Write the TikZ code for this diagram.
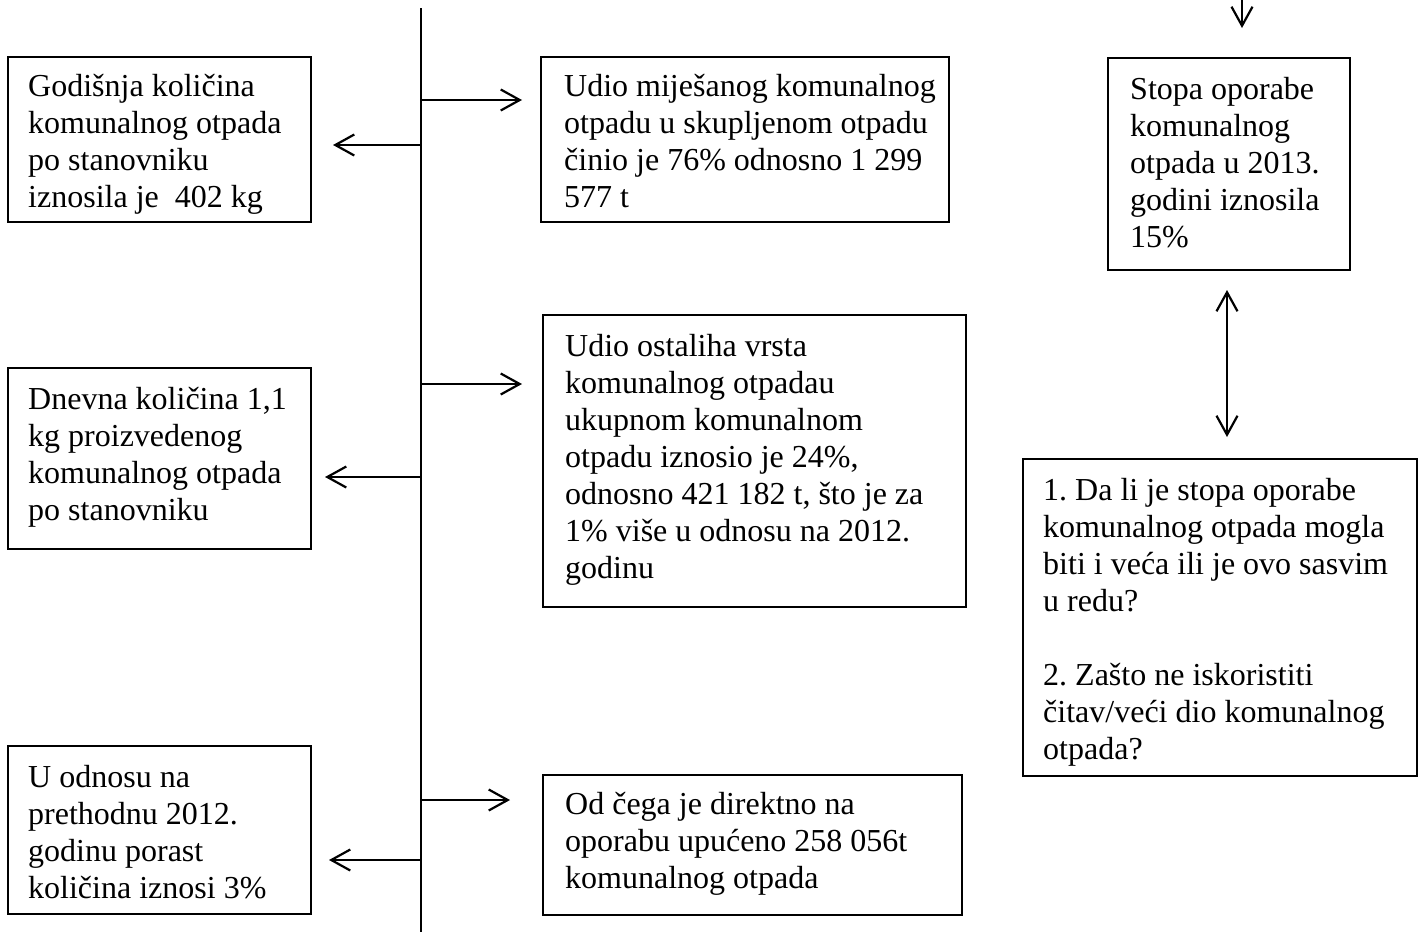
\documentclass[tikz,border=0pt]{standalone}
\usepackage{fontspec}
\setmainfont{Liberation Serif}
\usetikzlibrary{arrows.meta}
\frenchspacing
\begin{document}
\begin{tikzpicture}[x=1pt,y=-1pt,
  boxline/.style={draw=black,line width=2.2pt},
  txt/.style={anchor=base west,inner sep=0pt,align=left,font=\fontsize{32}{37}\selectfont},
  arr/.style={line width=2.2pt,-{Straight Barb[length=19pt,width=21pt,line width=2.2pt]}},
  darr/.style={line width=2.2pt,{Straight Barb[length=19pt,width=21pt,line width=2.2pt]}-{Straight Barb[length=19pt,width=21pt,line width=2.2pt]}},
  spine/.style={line width=2.2pt}]
\useasboundingbox[fill=white] (0,0) rectangle (1421,932);
% boxes
\draw[boxline] (8,57) rectangle (311,222);
\draw[boxline] (541,57) rectangle (949,222);
\draw[boxline] (8,368) rectangle (311,549);
\draw[boxline] (543,315) rectangle (966,607);
\draw[boxline] (8,746) rectangle (311,914);
\draw[boxline] (543,775) rectangle (962,915);
\draw[boxline] (1108,58) rectangle (1350,270);
\draw[boxline] (1023,459) rectangle (1417,776);
% texts (anchored at the baseline of their last line)
\node[txt] (t1) at (28,207) {Godišnja količina\\komunalnog otpada\\po stanovniku\\iznosila je\ \ 402 kg};
\node[txt] (t2) at (564,207) {Udio miješanog komunalnog\\otpadu u skupljenom otpadu\\činio je 76\% odnosno 1 299\\577 t};
\node[txt] (t3) at (28,520) {Dnevna količina 1,1\\kg proizvedenog\\komunalnog otpada\\po stanovniku};
\node[txt] (t4) at (565,578) {Udio ostaliha vrsta\\komunalnog otpadau\\ukupnom komunalnom\\otpadu iznosio je 24\%,\\odnosno 421 182 t, što je za\\1\% više u odnosu na 2012.\\godinu};
\node[txt] (t5) at (28,898) {U odnosu na\\prethodnu 2012.\\godinu porast\\količina iznosi 3\%};
\node[txt] (t6) at (565,888) {Od čega je direktno na\\oporabu upućeno 258 056t\\komunalnog otpada};
\node[txt] (t7) at (1130,247) {Stopa oporabe\\komunalnog\\otpada u 2013.\\godini iznosila\\15\%};
\node[txt] (t8) at (1043,759) {1. Da li je stopa oporabe\\komunalnog otpada mogla\\biti i veća ili je ovo sasvim\\u redu?\\[37pt]2. Zašto ne iskoristiti\\čitav/veći dio komunalnog\\otpada?};
% spine
\coordinate (sTop) at (421,8);
\coordinate (sBot) at (421,932);
\draw[spine] (sTop) -- (sBot);
\coordinate (s1) at (421,100);
\coordinate (s2) at (421,145);
\coordinate (s3) at (421,384);
\coordinate (s4) at (421,477);
\coordinate (s5) at (421,800);
\coordinate (s6) at (421,860);
\coordinate (e1) at (522,100);
\coordinate (e2) at (333,145);
\coordinate (e3) at (522,384);
\coordinate (e4) at (325,477);
\coordinate (e5) at (510,800);
\coordinate (e6) at (329,860);
\draw[arr] (s1) -- (e1);
\draw[arr] (s2) -- (e2);
\draw[arr] (s3) -- (e3);
\draw[arr] (s4) -- (e4);
\draw[arr] (s5) -- (e5);
\draw[arr] (s6) -- (e6);
% right column
\coordinate (d0) at (1242,0);
\coordinate (d1) at (1242,28);
\draw[arr] (d0) -- (d1);
\coordinate (u0) at (1227,290);
\coordinate (u1) at (1227,437);
\draw[darr] (u0) -- (u1);
\end{tikzpicture}
\end{document}
